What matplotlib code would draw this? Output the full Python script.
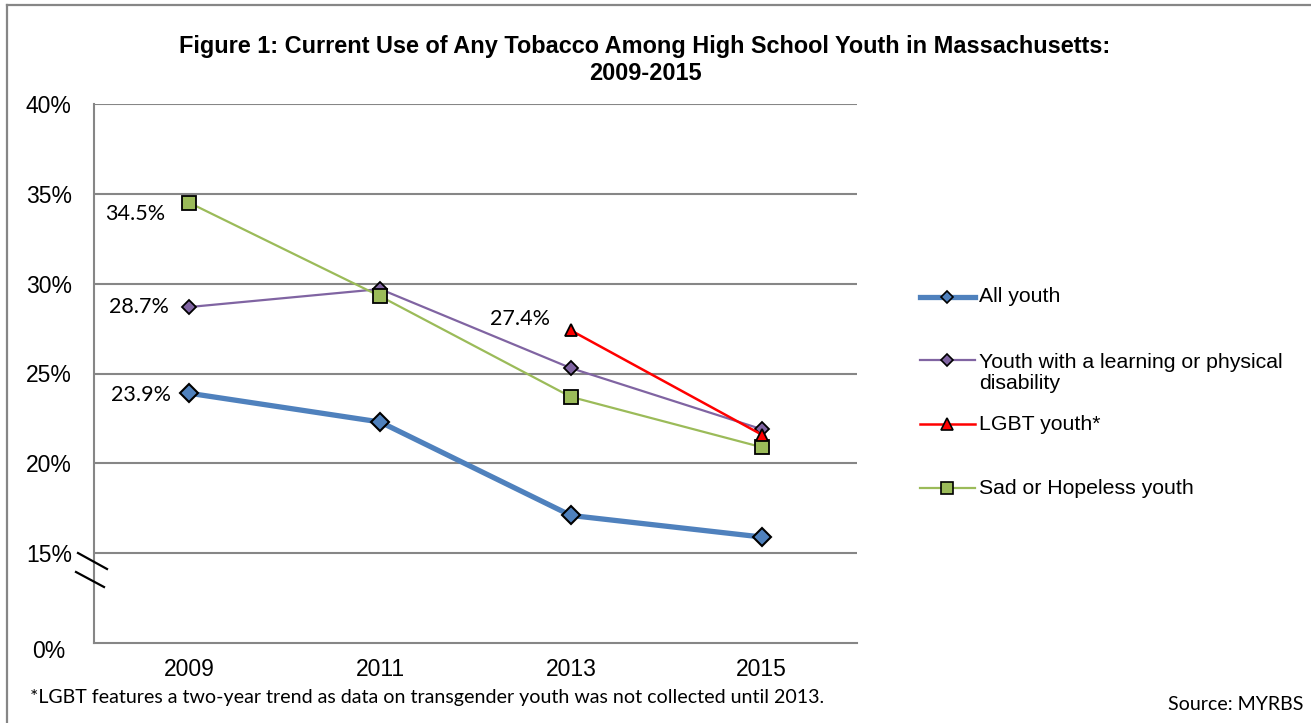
import matplotlib.pyplot as plt
from matplotlib.lines import Line2D

years = ["2009", "2011", "2013", "2015"]
all_youth = [23.9, 22.3, 17.1, 15.9]
disability = [28.7, 29.7, 25.3, 21.9]
lgbt = [None, None, 27.4, 21.6]
sad = [34.5, 29.3, 23.7, 20.9]
y_ticks = [15, 20, 25, 30, 35, 40]
y_labels = ["15%", "20%", "25%", "30%", "35%", "40%"]

W, H = 1311, 723
plt.rcParams["font.family"] = ["Liberation Sans", "DejaVu Sans"]
fig = plt.figure(figsize=(W / 100, H / 100), dpi=100)
ax = fig.add_axes([94 / W, 1 - 643 / H, (857 - 94) / W, (643 - 104) / H])

def px(x, y):
    return x / W, 1 - y / H

x = list(range(len(years)))
grid_c = "#868686"

l_all, = ax.plot(x, all_youth, color="#4F81BD", lw=3.8, marker="D", ms=9,
                 mfc="#4F81BD", mec="black", mew=1.5, zorder=3)
l_dis, = ax.plot(x, disability, color="#8064A2", lw=1.6, marker="D", ms=7,
                 mfc="#8064A2", mec="black", mew=1.3, zorder=4)
lx = [i for i, v in zip(x, lgbt) if v is not None]
ly = [v for v in lgbt if v is not None]
l_lgbt, = ax.plot(lx, ly, color="#FF0000", lw=1.8, marker="^", ms=9,
                  mfc="#FF0000", mec="black", mew=1.3, zorder=5)
l_sad, = ax.plot(x, sad, color="#9BBB59", lw=1.6, marker="s", ms=10,
                 mfc="#9BBB59", mec="black", mew=1.3, zorder=4)

ax.set_xlim(-0.5, 3.5)
ax.set_ylim(10, 40)
ax.set_xticks(x)
ax.set_xticklabels(years, fontsize=16.5)
ax.set_yticks(y_ticks)
ax.set_yticklabels(y_labels, fontsize=16.5)
ax.tick_params(axis="both", length=0)
ax.tick_params(axis="y", pad=16)
ax.tick_params(axis="x", pad=11)
ax.grid(axis="y", color=grid_c, lw=1.5)
ax.set_axisbelow(True)
for s in ["top", "right"]:
    ax.spines[s].set_visible(False)
for s in ["left", "bottom"]:
    ax.spines[s].set_color(grid_c)
    ax.spines[s].set_linewidth(1.5)

# data labels
lab_font = dict(family=["Lato", "DejaVu Sans"], fontsize=15.5)
ax.annotate("34.5%", (0, sad[0]), xytext=(-24, -11), textcoords="offset pixels",
            ha="right", va="center", **lab_font)
ax.annotate("28.7%", (0, disability[0]), xytext=(-20, 0), textcoords="offset pixels",
            ha="right", va="center", **lab_font)
ax.annotate("23.9%", (0, all_youth[0]), xytext=(-18, -2), textcoords="offset pixels",
            ha="right", va="center", **lab_font)
ax.annotate("27.4%", (2, lgbt[2]), xytext=(-21, 11), textcoords="offset pixels",
            ha="right", va="center", **lab_font)

# fake 0% label and axis break
fig.text(*px(65, 652), "0%", ha="right", va="center", fontsize=16.5)
fig.add_artist(Line2D([78 / W, 107 / W], [1 - 553 / H, 1 - 569 / H], color="black", lw=1.6))
fig.add_artist(Line2D([76 / W, 104 / W], [1 - 572 / H, 1 - 587 / H], color="black", lw=1.6))

# title
fig.text(*px(645, 60), "Figure 1: Current Use of Any Tobacco Among High School Youth in Massachusetts:\n2009-2015",
         ha="center", va="center", fontsize=16.9, fontweight="bold", linespacing=1.2)

# legend drawn by hand
legend_items = [
    (l_all, "All youth", 297, 297, 6.5),
    (l_dis, "Youth with a learning or physical\ndisability", 360, 373, 6),
    (l_lgbt, "LGBT youth*", 424, 424, 8),
    (l_sad, "Sad or Hopeless youth", 488, 488, 8),
]
for line, label, yh, yt, ms in legend_items:
    fig.add_artist(Line2D([920 / W, 975 / W], [1 - yh / H] * 2, color=line.get_color(),
                          lw=line.get_linewidth()))
    fig.add_artist(Line2D([947.5 / W], [1 - yh / H], marker=line.get_marker(), ms=ms,
                          mfc=line.get_markerfacecolor(), mec="black", mew=1.2))
    fig.text(*px(979, yt), label, ha="left", va="center", fontsize=15.3, linespacing=1.12)

# footnotes
fig.text(*px(30, 697), "*LGBT features a two-year trend as data on transgender youth was not collected until 2013.",
         ha="left", va="center", family=["Lato", "DejaVu Sans"], fontsize=14.1)
fig.text(*px(1303, 704), "Source: MYRBS", ha="right", va="center",
         family=["Lato", "DejaVu Sans"], fontsize=14.1)

# outer frame (left and top edges)
fig.add_artist(Line2D([7 / W, 7 / W], [0, 1 - 5 / H], color=grid_c, lw=1.6))
fig.add_artist(Line2D([7 / W, 1], [1 - 5 / H, 1 - 5 / H], color=grid_c, lw=1.6))

fig.savefig("out.png", dpi=100)
